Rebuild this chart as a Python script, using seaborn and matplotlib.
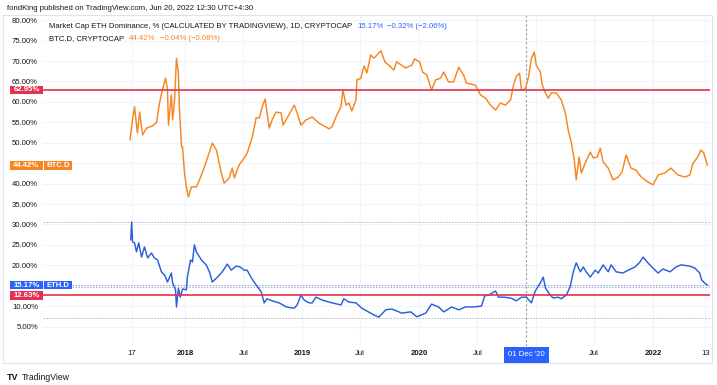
import matplotlib
matplotlib.use("Agg")
import matplotlib.pyplot as plt
import matplotlib.transforms as mtransforms
import matplotlib.dates as mdates
from matplotlib.patches import Rectangle
import seaborn as sns
import pandas as pd

# ---------------- data ----------------
btc_dates = ["2017-07-12","2017-07-16","2017-07-20","2017-07-26","2017-08-04","2017-08-11","2017-08-20",
             "2017-09-02","2017-09-20","2017-10-03","2017-10-12","2017-10-21","2017-10-31","2017-11-06",
             "2017-11-09","2017-11-18","2017-11-22","2017-11-28","2017-12-04","2017-12-10","2017-12-13",
             "2017-12-20","2017-12-23","2017-12-29","2018-01-04","2018-01-10","2018-01-20","2018-02-04",
             "2018-02-14","2018-03-01","2018-03-17","2018-03-26","2018-04-08","2018-04-23","2018-05-02",
             "2018-05-18","2018-05-27","2018-06-03","2018-06-18","2018-07-04","2018-07-13","2018-07-29",
             "2018-08-10","2018-08-20","2018-08-29","2018-09-07","2018-09-13","2018-09-20","2018-09-29",
             "2018-10-11","2018-10-27","2018-11-02","2018-11-15","2018-12-07","2018-12-16","2018-12-28",
             "2019-01-13","2019-02-01","2019-02-22","2019-03-26","2019-04-04","2019-04-19","2019-05-02",
             "2019-05-08","2019-05-18","2019-05-27","2019-06-05","2019-06-18","2019-06-21","2019-07-03",
             "2019-07-13","2019-07-22","2019-08-03","2019-08-13","2019-09-04","2019-09-16","2019-09-28",
             "2019-10-14","2019-10-23","2019-11-20","2019-12-09","2019-12-18","2020-01-03","2020-01-12",
             "2020-01-25","2020-02-09","2020-02-22","2020-03-08","2020-03-18","2020-04-02","2020-04-18",
             "2020-05-04","2020-05-19","2020-05-28","2020-06-25","2020-07-11","2020-07-27","2020-08-11",
             "2020-08-27","2020-09-11","2020-09-27","2020-10-13","2020-10-22","2020-10-31","2020-11-10",
             "2020-11-16","2020-11-28","2020-12-08","2020-12-17","2020-12-26","2021-01-01","2021-01-14",
             "2021-01-20","2021-01-30","2021-02-08","2021-02-17","2021-03-05","2021-03-20","2021-04-02",
             "2021-04-11","2021-04-21","2021-04-30","2021-05-06","2021-05-15","2021-05-22","2021-06-03",
             "2021-06-19","2021-06-28","2021-07-11","2021-07-20","2021-07-29","2021-08-14","2021-08-29",
             "2021-09-14","2021-09-26","2021-10-09","2021-10-24","2021-11-09","2021-11-25","2021-12-16",
             "2022-01-01","2022-01-17","2022-02-07","2022-02-26","2022-03-20","2022-04-11","2022-04-26",
             "2022-05-06","2022-05-21","2022-05-30","2022-06-08","2022-06-20"]
btc_values = [50.7,53.5,55.6,58.8,52.4,57.5,51.9,
              53.6,54.1,55.0,59.7,62.9,65.8,63.0,
              54.3,61.7,55.6,60.5,70.7,67.0,58.8,
              49.0,49.0,42.6,39.2,36.7,39.2,39.2,
              40.9,44.0,47.7,49.9,48.2,42.6,40.1,
              41.4,43.8,41.4,44.6,46.3,47.5,51.4,
              56.1,56.1,58.8,60.7,57.5,53.6,55.6,
              57.5,57.3,54.3,56.1,59.2,57.3,54.3,
              55.6,56.3,54.8,53.4,53.9,56.8,58.8,
              62.9,59.2,59.7,57.8,60.5,65.4,65.8,
              68.8,67.1,71.5,70.7,72.5,69.8,69.0,
              67.8,69.8,68.3,69.0,70.5,69.8,67.3,
              66.6,62.9,65.4,65.8,67.3,64.9,64.9,
              68.5,66.6,64.6,64.1,61.7,60.9,59.2,
              58.0,59.7,59.2,60.5,64.1,66.3,67.0,
              62.9,63.2,66.1,70.7,72.2,69.0,67.3,
              64.1,62.2,60.9,62.2,62.2,60.5,57.3,
              53.1,49.9,45.8,40.9,46.5,42.6,45.0,
              47.7,46.3,46.5,48.7,45.3,43.8,40.9,
              41.6,42.8,47.0,43.8,43.3,41.6,40.4,
              39.7,42.1,42.6,43.8,42.1,41.6,42.1,
              45.0,46.5,48.2,47.6,44.42]

eth_dates = ["2017-07-14","2017-07-17","2017-07-20","2017-07-26","2017-08-01","2017-08-08","2017-08-17",
             "2017-08-26","2017-09-05","2017-09-17","2017-09-26","2017-10-06","2017-10-18","2017-10-28",
             "2017-11-06","2017-11-18","2017-11-22","2017-12-01","2017-12-04","2017-12-10","2017-12-16",
             "2017-12-23","2018-01-04","2018-01-07","2018-01-17","2018-01-23","2018-01-29","2018-02-04",
             "2018-02-20","2018-03-07","2018-03-17","2018-03-26","2018-04-11","2018-04-26","2018-05-12",
             "2018-05-24","2018-06-09","2018-06-21","2018-07-04","2018-07-13","2018-07-26","2018-08-10",
             "2018-08-26","2018-09-04","2018-09-13","2018-09-29","2018-10-21","2018-11-12","2018-12-07",
             "2018-12-16","2018-12-28","2019-01-07","2019-01-22","2019-02-01","2019-02-13","2019-03-04",
             "2019-04-04","2019-05-02","2019-05-11","2019-05-27","2019-06-18","2019-07-06","2019-08-07",
             "2019-08-28","2019-09-19","2019-10-08","2019-11-08","2019-12-06","2019-12-25","2020-01-22",
             "2020-02-09","2020-03-02","2020-03-18","2020-04-12","2020-05-04","2020-05-25","2020-06-19",
             "2020-07-14","2020-07-24","2020-08-05","2020-08-27","2020-09-05","2020-09-21","2020-10-13",
             "2020-10-31","2020-11-16","2020-12-01","2020-12-17","2020-12-29","2021-01-14","2021-01-23",
             "2021-01-30","2021-02-14","2021-02-23","2021-03-11","2021-03-20","2021-04-05","2021-04-17",
             "2021-04-27","2021-05-06","2021-05-19","2021-05-28","2021-06-06","2021-06-19","2021-07-04",
             "2021-07-14","2021-07-29","2021-08-14","2021-08-23","2021-09-08","2021-09-29","2021-10-15",
             "2021-11-06","2021-11-21","2021-12-01","2021-12-16","2022-01-01","2022-01-17","2022-02-01",
             "2022-02-23","2022-03-14","2022-03-29","2022-04-26","2022-05-12","2022-05-27","2022-06-02",
             "2022-06-12","2022-06-20"]
eth_values = [26.2,30.6,25.7,25.5,23.3,25.5,22.0,
              24.5,21.8,23.0,21.8,21.3,18.4,17.6,
              15.9,18.1,15.7,14.0,9.8,14.4,12.2,
              14.2,14.0,17.1,21.3,20.8,25.0,23.3,
              21.3,20.1,18.4,15.9,17.1,18.4,20.3,
              18.8,19.8,19.6,18.8,18.8,16.9,15.2,
              13.5,10.8,11.8,11.3,10.8,9.8,9.5,
              10.3,12.7,11.5,10.8,10.8,12.2,11.5,
              10.8,10.3,11.8,11.0,10.8,9.5,8.1,
              7.3,9.1,9.3,8.3,8.6,7.4,8.3,
              10.5,9.8,8.6,9.8,9.1,9.8,9.8,
              10.0,12.5,12.7,13.7,12.2,12.2,12.0,
              11.3,12.2,12.2,10.8,13.7,15.7,17.1,
              14.4,12.7,12.0,12.2,11.8,12.7,14.7,
              18.4,20.6,18.4,19.6,18.4,17.1,18.8,
              18.1,20.1,18.4,20.1,18.4,18.1,18.8,
              19.6,20.8,22.0,20.6,19.3,18.1,19.1,
              18.4,19.6,20.1,19.8,19.3,18.1,16.4,
              15.6,15.17]

btc_last, btc_chg, btc_pct = 44.42, "\u22120.04%", "(\u22120.08%)"
eth_last, eth_chg, eth_pct = 15.17, "\u22120.32%", "(\u22122.06%)"
level_high, level_low = 62.95, 12.63
dotted_levels = [30.6, 14.6, 7.2]
crosshair_date = "2020-12-01"
crosshair_label = "01 Dec '20"

y_ticks = [5, 10, 15, 20, 25, 30, 35, 40, 45, 50, 55, 60, 65, 70, 75, 80]
hidden_y_labels = {15, 45}   # covered by the price-scale boxes in the reference
x_tick_dates = ["2017-07-17", "2018-01-01", "2018-07-01", "2019-01-01", "2019-07-01", "2020-01-01",
                "2020-07-01", "2021-01-01", "2021-07-01", "2022-01-01", "2022-06-13"]
x_tick_labels = ["17", "2018", "Jul", "2019", "Jul", "2020", "Jul", "", "Jul", "2022", "13"]
bold_labels = {"2018", "2019", "2020", "2022"}

title_eth = "Market Cap ETH Dominance, % (CALCULATED BY TRADINGVIEW), 1D, CRYPTOCAP"
title_btc = "BTC.D, CRYPTOCAP"
header = "fondKing published on TradingView.com, Jun 20, 2022 12:30 UTC+4:30"

# ---------------- style ----------------
sns.set_style("white")
plt.rcParams['font.family'] = ['Liberation Sans', 'DejaVu Sans']

ORANGE = "#f7861e"
BLUE_LINE = "#2b5fd9"
BLUE = "#2962ff"
RED = "#e6304f"
TXT = "#131722"
GRID = "#f0f3fa"
FS = 5.6

W, H = 717, 385
fig = plt.figure(figsize=(W / 100, H / 100), dpi=100)
L, R, T, B = 43, 710, 15, 346
ax = fig.add_axes([L / W, 1 - B / H, (R - L) / W, (B - T) / H])

df = pd.concat([
    pd.DataFrame({"date": pd.to_datetime(btc_dates), "value": btc_values, "series": "BTC.D"}),
    pd.DataFrame({"date": pd.to_datetime(eth_dates), "value": eth_values, "series": "ETH.D"}),
])
sns.lineplot(data=df, x="date", y="value", hue="series",
             palette={"BTC.D": ORANGE, "ETH.D": BLUE_LINE},
             estimator=None, legend=False, linewidth=1.05, ax=ax, zorder=5)

ax.set_xlim(pd.Timestamp("2016-10-13"), pd.Timestamp("2022-06-28"))
ax.set_ylim(0.245, 81.27)
for s in ax.spines.values():
    s.set_visible(False)

ax.set_yticks(y_ticks)
ax.set_yticklabels(["" if v in hidden_y_labels else f"{v:.2f}%" for v in y_ticks])
ax.set_xticks(pd.to_datetime(x_tick_dates))
ax.set_xticklabels(x_tick_labels)
for lab in ax.get_xticklabels():
    if lab.get_text() in bold_labels:
        lab.set_fontweight("bold")
ax.tick_params(axis="both", length=0, labelsize=FS, labelcolor=TXT)
ax.tick_params(axis="y", pad=3.6)
ax.tick_params(axis="x", pad=3.2)
ax.set_xlabel("")
ax.set_ylabel("")
ax.grid(True, color=GRID, linewidth=0.8)
ax.set_axisbelow(True)

# horizontal levels
ax.axhline(level_high, color=RED, lw=1.2, zorder=6)
ax.axhline(level_low, color=RED, lw=1.2, zorder=6)
for lv in dotted_levels:
    ax.axhline(lv, color="#b2b5be", lw=0.7, ls=(0, (1.5, 1.5)), zorder=3)
ax.axhline(eth_last, color="#8aa6e8", lw=0.7, ls=(0, (1.5, 1.5)), zorder=3)

# crosshair
cx = pd.Timestamp(crosshair_date)
ax.axvline(cx, color="#8e9bb8", lw=0.8, ls=(0, (2, 2)), zorder=4)

# price-scale boxes (x in figure px, y in data)
trans = mtransforms.blended_transform_factory(fig.transFigure, ax.transData)
box_h = 8.5 / ((B - T) / (81.27 - 0.245))


def price_box(x0, x1, val, text, color):
    fig.add_artist(Rectangle((x0 / W, val - box_h / 2), (x1 - x0) / W, box_h,
                             transform=trans, facecolor=color, edgecolor="none",
                             clip_on=False, zorder=10))
    fig.text((x0 + x1) / 2 / W, val, text, transform=trans, ha="center", va="center",
             color="white", fontsize=FS, fontweight="bold", zorder=11)


price_box(10, 43, level_high, f"{level_high:.2f}%", RED)
price_box(10, 43, btc_last, f"{btc_last:.2f}%", ORANGE)
price_box(44, 72, btc_last, "BTC.D", ORANGE)
price_box(10, 43, level_low, f"{level_low:.2f}%", RED)
price_box(10, 43, eth_last, f"{eth_last:.2f}%", BLUE)
price_box(44, 72, eth_last, "ETH.D", BLUE)

# crosshair date label
transx = mtransforms.blended_transform_factory(ax.transData, fig.transFigure)
fig.text(mdates.date2num(cx), 1 - 355 / H, crosshair_label, transform=transx,
         ha="center", va="center", color="white", fontsize=FS, zorder=11,
         bbox=dict(boxstyle="square,pad=0.55", facecolor=BLUE, edgecolor="none"))

# outer frame
fig.add_artist(Rectangle((3 / W, 1 - 363 / H), 709 / W, 348 / H, transform=fig.transFigure,
                         facecolor="none", edgecolor="#e0e3eb", lw=0.8))

# header / legend texts
fig.text(7 / W, 1 - 8 / H, header, ha="left", va="center", color=TXT, fontsize=FS)

fig.canvas.draw()
renderer = fig.canvas.get_renderer()


def chain(parts, x_px, y_px):
    x = x_px
    for text, color, gap in parts:
        t = fig.text(x / W, 1 - y_px / H, text, ha="left", va="center", color=color,
                     fontsize=FS, zorder=12)
        bb = t.get_window_extent(renderer)
        x = x + bb.width + gap


chain([(title_eth, TXT, 5), (f"{eth_last:.2f}%", BLUE, 4), (f"{eth_chg} {eth_pct}", BLUE, 0)], 49, 26)
chain([(title_btc, TXT, 5), (f"{btc_last:.2f}%", ORANGE, 4), (f"{btc_chg} {btc_pct}", ORANGE, 0)], 49, 39)

# footer logo
fig.text(7 / W, 1 - 377 / H, "TV", ha="left", va="center", color=TXT, fontsize=6.5,
         fontweight="bold")
fig.text(22 / W, 1 - 377 / H, "TradingView", ha="left", va="center", color=TXT, fontsize=6.2)

fig.savefig("out.png", dpi=100)
